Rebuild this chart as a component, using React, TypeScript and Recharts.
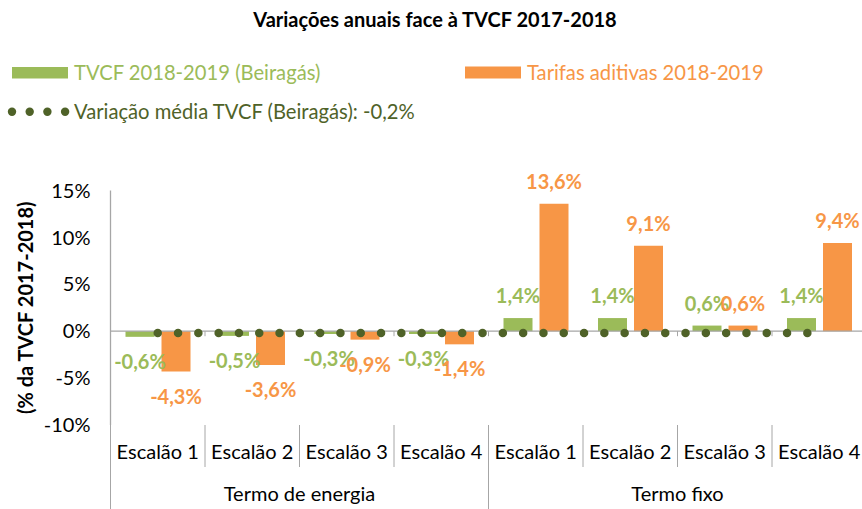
import React from 'react';
import {
  ComposedChart, Bar, Line, XAxis, YAxis, ReferenceLine, LabelList, Legend,
} from 'recharts';

const categories = ['Escalão 1', 'Escalão 2', 'Escalão 3', 'Escalão 4', 'Escalão 1', 'Escalão 2', 'Escalão 3', 'Escalão 4'];
const groups = ['Termo de energia', 'Termo de energia', 'Termo de energia', 'Termo de energia', 'Termo fixo', 'Termo fixo', 'Termo fixo', 'Termo fixo'];
const tvcf = [-0.6, -0.5, -0.3, -0.3, 1.4, 1.4, 0.6, 1.4];
const tarifas = [-4.3, -3.6, -0.9, -1.4, 13.6, 9.1, 0.6, 9.4];
const media = [-0.2, -0.2, -0.2, -0.2, -0.2, -0.2, -0.2, -0.2];
const yTicks = [-10, -5, 0, 5, 10, 15];

const TITLE = 'Variações anuais face à TVCF 2017-2018';
const Y_LABEL = '(% da TVCF 2017-2018)';
const NAME_TVCF = 'TVCF 2018-2019 (Beiragás)';
const NAME_TARIFAS = 'Tarifas aditivas 2018-2019';
const NAME_MEDIA = 'Variação média TVCF (Beiragás): -0,2%';

const data = categories.map((c, i) => ({
  name: c,
  group: groups[i],
  tvcf: tvcf[i],
  tarifas: tarifas[i],
  media: media[i],
}));

const GREEN = '#9BBB59';
const ORANGE = '#F79646';
const OLIVE = '#4F6228';
const AXIS = '#A6A6A6';
const FONT = 'Lato, "Open Sans", sans-serif';
const FS = 20;
const FS_LEG = 20.2;

const CHART_W = 870;
const CHART_H = 509;
const MARGIN = { top: 190.5, right: 3.5, bottom: 24, left: 50.5 };
const Y_AXIS_W = 60;
const X_AXIS_H = 60;
const PLOT_W = CHART_W - MARGIN.left - Y_AXIS_W - MARGIN.right;
const BAND = PLOT_W / categories.length;

const fmt = (v: number) => `${v.toFixed(1).replace('.', ',')}%`;

const makeLabel = (color: string) => (props: any) => {
  const { x, y, width, height, value } = props;
  const v = Number(value);
  const top = Math.min(y, y + height);
  const bottom = Math.max(y, y + height);
  const cx = x + width / 2;
  const ty = v >= 0 ? top - 15 : bottom + 32;
  return (
    <text x={cx} y={ty} textAnchor="middle" fill={color} fontFamily={FONT} fontSize={FS} fontWeight={700}>
      {fmt(v)}
    </text>
  );
};

const XTick = (props: any) => {
  const { x, y, payload, index } = props;
  const left = x - BAND / 2;
  const els: React.ReactNode[] = [];
  els.push(
    <text key="t" x={x} y={y + 34} textAnchor="middle" fill="#000" fontFamily={FONT} fontSize={FS}>
      {payload.value}
    </text>
  );
  const isGroupStart = index === 0 || groups[index] !== groups[index - 1];
  if (isGroupStart) {
    els.push(<line key="l" x1={left} x2={left} y1={y} y2={y + 84} stroke={AXIS} strokeWidth={1} />);
    let n = 0;
    while (index + n < groups.length && groups[index + n] === groups[index]) n++;
    els.push(
      <text key="g" x={left + (n * BAND) / 2} y={y + 76} textAnchor="middle" fill="#000" fontFamily={FONT} fontSize={FS}>
        {groups[index]}
      </text>
    );
  } else {
    els.push(<line key="l" x1={left} x2={left} y1={y} y2={y + 42} stroke={AXIS} strokeWidth={1} />);
  }
  return <g>{els}</g>;
};

const ZeroLine = (props: any) => {
  const { x1, x2, y1 } = props;
  const ticks: React.ReactNode[] = [];
  for (let k = 1; k < categories.length; k++) {
    const tx = x1 + ((x2 - x1) * k) / categories.length;
    ticks.push(<line key={k} x1={tx} x2={tx} y1={y1} y2={y1 + 5} stroke={AXIS} strokeWidth={1} />);
  }
  return (
    <g>
      <line x1={x1} x2={x2} y1={y1} y2={y1} stroke={AXIS} strokeWidth={1.3} />
      {ticks}
    </g>
  );
};

const LegendContent = (props: any) => {
  const payload: any[] = props.payload || [];
  const find = (k: string) => payload.find((p) => p.dataKey === k) || {};
  const g = find('tvcf');
  const o = find('tarifas');
  const m = find('media');
  return (
    <svg width={862} height={130} style={{ display: 'block' }}>
      <rect x={12} y={67} width={56} height={11.5} fill={g.color || GREEN} />
      <text x={74} y={80} fill={GREEN} fontFamily={FONT} fontSize={FS_LEG}>{g.value || NAME_TVCF}</text>
      <rect x={465} y={66.5} width={56} height={12} fill={o.color || ORANGE} />
      <text x={527} y={80} fill={ORANGE} fontFamily={FONT} fontSize={FS_LEG}>{o.value || NAME_TARIFAS}</text>
      {[12, 29.7, 47.4, 65.1].map((cx) => (
        <circle key={cx} cx={cx} cy={111.7} r={4.2} fill={m.color || OLIVE} />
      ))}
      <text x={74} y={118.7} fill={OLIVE} fontFamily={FONT} fontSize={FS_LEG}>{m.value || NAME_MEDIA}</text>
    </svg>
  );
};

const YLabel = (props: any) => {
  const { viewBox } = props;
  const cx = 25;
  const cy = viewBox.y + viewBox.height / 2;
  return (
    <text x={cx} y={cy} transform={`rotate(-90 ${cx} ${cy})`} textAnchor="middle" dominantBaseline="central"
      fill="#000" fontFamily={FONT} fontSize={FS} fontWeight={700}>
      {Y_LABEL}
    </text>
  );
};

export default function App() {
  return (
    <div style={{ position: 'absolute', left: 0, top: 0, width: 862, height: 509, overflow: 'hidden', background: '#fff' }}>
      <div style={{
        position: 'absolute', left: 0, top: 0, width: 870, textAlign: 'center',
        fontFamily: FONT, fontWeight: 700, fontSize: FS, color: '#000', lineHeight: '20px', paddingTop: 9,
        boxSizing: 'border-box',
      }}>
        {TITLE}
      </div>
      <ComposedChart
        width={CHART_W}
        height={CHART_H}
        data={data}
        margin={MARGIN}
        barSize={29}
        barGap={7}
        style={{ position: 'absolute', left: 0, top: 0 }}
      >
        <YAxis
          width={Y_AXIS_W}
          domain={[-10, 15]}
          ticks={yTicks}
          interval={0}
          allowDataOverflow
          tickFormatter={(v: number) => `${v}%`}
          axisLine={{ stroke: AXIS, strokeWidth: 1.3 }}
          tickLine={false}
          tickSize={0}
          tickMargin={20}
          tick={{ fill: '#000', fontFamily: FONT, fontSize: FS }}
          label={{ content: YLabel }}
        />
        <XAxis
          dataKey="name"
          height={X_AXIS_H}
          interval={0}
          axisLine={false}
          tickLine={false}
          tickSize={0}
          tickMargin={0}
          tick={XTick}
        />
        <ReferenceLine y={0} shape={ZeroLine} ifOverflow="extendDomain" />
        <Bar dataKey="tvcf" name={NAME_TVCF} fill={GREEN} isAnimationActive={false}>
          <LabelList dataKey="tvcf" content={makeLabel(GREEN)} />
        </Bar>
        <Bar dataKey="tarifas" name={NAME_TARIFAS} fill={ORANGE} isAnimationActive={false}>
          <LabelList dataKey="tarifas" content={makeLabel(ORANGE)} />
        </Bar>
        <Line
          dataKey="media"
          name={NAME_MEDIA}
          stroke={OLIVE}
          strokeWidth={8.5}
          strokeDasharray="0 20.3"
          strokeLinecap="round"
          dot={false}
          activeDot={false}
          isAnimationActive={false}
        />
        <Legend
          layout="horizontal"
          verticalAlign="middle"
          align="center"
          content={LegendContent}
          wrapperStyle={{ position: 'absolute', top: 0, left: 0, width: 862, height: 130 }}
        />
      </ComposedChart>
    </div>
  );
}
